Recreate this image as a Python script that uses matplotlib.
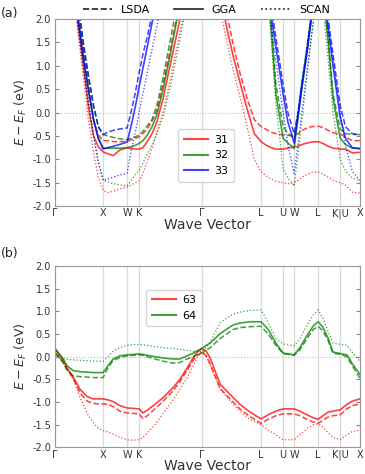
import numpy as np
import matplotlib.pyplot as plt
from matplotlib.lines import Line2D

# high-symmetry points along the path
kpt_labels = ['Γ', 'X', 'W', 'K', 'Γ', 'L', 'U', 'W', 'L', 'K|U', 'X']
kpt_pos = [0, 1.0, 1.5, 1.75, 3.06, 4.29, 4.75, 4.98, 5.48, 5.94, 6.35]

# ---- panel (a): bands 31, 32, 33 ----
k_a = [0, 0.25, 0.4, 0.5, 0.6, 0.7, 0.8, 0.9, 1.0, 1.1, 1.21, 1.35, 1.5, 1.58, 1.67,
       1.75, 1.83, 1.92, 2.02, 2.12, 2.25, 2.4, 2.54, 2.7, 3.06, 3.4, 3.5, 3.6, 3.7,
       3.85, 4.0, 4.15, 4.29, 4.4, 4.5, 4.6, 4.75, 4.85, 4.98, 5.06, 5.15, 5.25, 5.35,
       5.48, 5.58, 5.69, 5.79, 5.94, 6.05, 6.19, 6.35]

b31_lsda = [6.0, 4.5, 2.8, 2.0, 1.25, 0.55, -0.15, -0.48, -0.6, -0.6, -0.62, -0.62, -0.62,
            -0.58, -0.55, -0.52, -0.45, -0.35, -0.18, 0.05, 0.6, 1.35, 2.05, 2.8, 4.5, 3.2,
            2.6, 2.0, 1.5, 0.85, 0.3, -0.15, -0.3, -0.36, -0.42, -0.45, -0.48, -0.49, -0.48,
            -0.45, -0.38, -0.33, -0.3, -0.29, -0.32, -0.38, -0.43, -0.46, -0.52, -0.6, -0.6]
b31_gga = [5.5, 4.0, 2.5, 1.7, 0.9, 0.08, -0.5, -0.73, -0.84, -0.88, -0.92, -0.8, -0.75,
           -0.77, -0.78, -0.78, -0.75, -0.62, -0.45, -0.2, 0.3, 1.03, 1.7, 2.5, 4.5, 2.8,
           2.2, 1.7, 1.25, 0.65, 0.08, -0.45, -0.62, -0.7, -0.75, -0.78, -0.78, -0.76, -0.73,
           -0.72, -0.68, -0.65, -0.63, -0.62, -0.66, -0.72, -0.76, -0.78, -0.78, -0.86, -0.85]
b31_scan = [5.0, 3.8, 2.4, 1.5, 0.65, -0.2, -0.85, -1.38, -1.66, -1.71, -1.68, -1.63, -1.59,
            -1.55, -1.5, -1.46, -1.3, -1.05, -0.75, -0.42, 0.0, 0.7, 1.4, 2.2, 4.0, 2.4,
            1.9, 1.4, 0.95, 0.35, -0.3, -1.0, -1.27, -1.35, -1.42, -1.47, -1.5, -1.52, -1.5,
            -1.45, -1.38, -1.32, -1.28, -1.27, -1.32, -1.38, -1.45, -1.5, -1.55, -1.7, -1.72]

b32_lsda = [6.0, 4.6, 2.9, 2.15, 1.4, 0.75, 0.15, -0.3, -0.47, -0.5, -0.53, -0.56, -0.58,
            -0.55, -0.52, -0.48, -0.4, -0.28, -0.15, 0.15, 0.75, 1.55, 2.3, 3.0, 5.0, 5.2,
            5.1, 5.0, 4.9, 4.8, 4.6, 4.3, 4.1, 3.2, 2.0, 0.6, -0.3, -0.45, -0.55,
            0.0, 0.7, 1.4, 2.2, 3.1, 2.7, 1.6, 0.4, -0.35, -0.45, -0.47, -0.47]
b32_gga = [5.5, 4.1, 2.6, 1.85, 1.1, 0.45, -0.15, -0.55, -0.77, -0.76, -0.76, -0.76, -0.75,
           -0.73, -0.7, -0.66, -0.6, -0.48, -0.3, -0.05, 0.5, 1.25, 2.0, 2.8, 4.8, 5.0,
           4.9, 4.8, 4.7, 4.6, 4.5, 4.2, 4.0, 3.0, 1.8, 0.4, -0.55, -0.65, -0.77,
           -0.1, 0.6, 1.3, 2.1, 3.0, 2.6, 1.5, 0.3, -0.55, -0.68, -0.76, -0.77]
b32_scan = [5.2, 3.9, 2.5, 1.7, 0.9, 0.2, -0.5, -1.05, -1.45, -1.48, -1.52, -1.55, -1.57,
            -1.45, -1.33, -1.24, -1.08, -0.88, -0.7, -0.45, -0.08, 0.55, 1.25, 2.1, 4.5, 4.8,
            4.7, 4.6, 4.5, 4.4, 4.2, 4.0, 3.8, 2.9, 1.6, 0.2, -1.2, -1.4, -1.57,
            -0.9, -0.1, 0.8, 1.7, 2.8, 2.3, 1.1, 0.0, -1.0, -1.25, -1.4, -1.45]

b33_lsda = [6.0, 4.6, 2.9, 2.15, 1.4, 0.75, 0.15, -0.3, -0.47, -0.42, -0.38, -0.35, -0.33,
            0.0, 0.42, 0.85, 1.25, 1.62, 2.1, 2.6, 3.2, 3.8, 4.4, 5.0, 6.0, 5.2,
            5.0, 4.8, 4.6, 4.4, 4.2, 4.0, 3.6, 3.1, 2.3, 1.6, 0.6, 0.0, -0.45,
            0.0, 0.7, 1.4, 2.2, 3.1, 2.8, 2.0, 1.25, 0.15, -0.3, -0.45, -0.47]
b33_gga = [5.5, 4.1, 2.6, 1.85, 1.1, 0.45, -0.15, -0.55, -0.77, -0.75, -0.72, -0.68, -0.63,
           -0.3, 0.12, 0.55, 0.95, 1.4, 1.92, 2.4, 3.0, 3.6, 4.2, 4.8, 6.0, 5.0,
           4.8, 4.6, 4.4, 4.2, 4.0, 3.8, 3.5, 3.0, 2.1, 1.4, 0.4, -0.2, -0.65,
           -0.1, 0.6, 1.3, 2.1, 3.0, 2.6, 1.8, 1.0, -0.1, -0.55, -0.75, -0.77]
b33_scan = [5.2, 3.9, 2.5, 1.7, 0.9, 0.2, -0.5, -1.05, -1.45, -1.42, -1.38, -1.33, -1.3,
            -0.85, -0.42, 0.0, 0.4, 0.85, 1.35, 1.85, 2.5, 3.2, 3.8, 4.4, 5.5, 4.8,
            4.6, 4.4, 4.2, 4.0, 3.8, 3.6, 3.3, 2.8, 1.9, 1.1, 0.0, -0.7, -1.3,
            -0.7, 0.1, 0.9, 1.7, 2.6, 2.6, 1.9, 1.1, 0.0, -0.7, -1.25, -1.45]

# ---- panel (b): bands 63, 64 ----
k_b = [0, 0.15, 0.25, 0.38, 0.52, 0.67, 0.79, 0.9, 1.0, 1.1, 1.21, 1.35, 1.5, 1.63, 1.75,
       1.83, 1.92, 2.08, 2.25, 2.46, 2.6, 2.75, 2.88, 2.96, 3.06, 3.15, 3.23, 3.44, 3.71,
       3.85, 4.06, 4.29, 4.44, 4.6, 4.75, 4.98, 5.1, 5.25, 5.38, 5.48, 5.58, 5.69, 5.79,
       5.94, 6.08, 6.19, 6.35]

b63_lsda = [0.08, -0.1, -0.28, -0.48, -0.8, -0.98, -1.03, -1.04, -1.04, -1.05, -1.1, -1.2,
            -1.24, -1.25, -1.26, -1.37, -1.3, -1.15, -0.98, -0.75, -0.55, -0.3, -0.08, 0.03,
            0.1, 0.02, -0.15, -0.7, -1.0, -1.15, -1.32, -1.47, -1.38, -1.3, -1.26, -1.26,
            -1.3, -1.38, -1.44, -1.47, -1.4, -1.33, -1.3, -1.28, -1.15, -1.08, -1.04]
b63_gga = [0.16, -0.05, -0.25, -0.45, -0.72, -0.88, -0.93, -0.93, -0.93, -0.95, -0.99, -1.08,
           -1.13, -1.14, -1.15, -1.24, -1.18, -1.05, -0.9, -0.68, -0.5, -0.25, -0.02, 0.1,
           0.18, 0.12, -0.03, -0.61, -0.9, -1.05, -1.22, -1.37, -1.28, -1.2, -1.15, -1.15,
           -1.2, -1.28, -1.35, -1.38, -1.3, -1.22, -1.2, -1.17, -1.05, -0.98, -0.93]
b63_scan = [0.08, -0.1, -0.28, -0.5, -0.9, -1.25, -1.45, -1.58, -1.63, -1.66, -1.7, -1.78,
            -1.83, -1.84, -1.83, -1.78, -1.68, -1.5, -1.25, -0.95, -0.72, -0.47, -0.2, -0.02,
            0.1, 0.0, -0.2, -0.72, -1.05, -1.2, -1.38, -1.5, -1.62, -1.72, -1.83, -1.83,
            -1.72, -1.58, -1.5, -1.48, -1.55, -1.68, -1.78, -1.83, -1.72, -1.65, -1.62]

b64_lsda = [0.08, -0.1, -0.3, -0.42, -0.44, -0.45, -0.46, -0.46, -0.46, -0.25, -0.08, -0.02,
            0.02, 0.03, 0.04, 0.03, 0.0, -0.05, -0.1, -0.14, -0.13, -0.05, 0.0, 0.04,
            0.08, 0.14, 0.2, 0.4, 0.6, 0.64, 0.66, 0.67, 0.5, 0.25, 0.07, 0.03,
            0.15, 0.4, 0.6, 0.67, 0.57, 0.35, 0.08, 0.05, 0.0, -0.2, -0.47]
b64_gga = [0.18, -0.02, -0.2, -0.31, -0.33, -0.34, -0.35, -0.35, -0.35, -0.2, -0.05, 0.02,
           0.04, 0.05, 0.06, 0.05, 0.03, 0.0, -0.03, -0.05, -0.05, 0.02, 0.08, 0.13,
           0.18, 0.25, 0.3, 0.51, 0.7, 0.74, 0.77, 0.77, 0.6, 0.3, 0.08, 0.04,
           0.2, 0.47, 0.68, 0.77, 0.65, 0.4, 0.1, 0.07, 0.04, -0.15, -0.39]
b64_scan = [0.08, -0.03, -0.06, -0.07, -0.08, -0.09, -0.1, -0.1, -0.1, 0.0, 0.12, 0.2,
            0.25, 0.27, 0.27, 0.26, 0.25, 0.22, 0.2, 0.18, 0.16, 0.14, 0.12, 0.11,
            0.11, 0.2, 0.32, 0.75, 0.94, 0.98, 1.02, 1.03, 0.75, 0.4, 0.28, 0.24,
            0.4, 0.7, 0.92, 1.03, 0.85, 0.55, 0.3, 0.27, 0.25, 0.1, -0.1]

functionals = ['LSDA', 'GGA', 'SCAN']
ls = {'LSDA': '--', 'GGA': '-', 'SCAN': ':'}
lw = {'LSDA': 1.1, 'GGA': 1.2, 'SCAN': 0.9}

bands_a = {'31': ('red', [b31_lsda, b31_gga, b31_scan]),
           '32': ('green', [b32_lsda, b32_gga, b32_scan]),
           '33': ('blue', [b33_lsda, b33_gga, b33_scan])}
bands_b = {'63': ('red', [b63_lsda, b63_gga, b63_scan]),
           '64': ('green', [b64_lsda, b64_gga, b64_scan])}

fig = plt.figure(figsize=(3.65, 4.74), dpi=100)
ax_a = fig.add_axes([0.151, 0.565, 0.835, 0.395])
ax_b = fig.add_axes([0.151, 0.056, 0.835, 0.383])


def draw_panel(ax, k, bands, leg_anchor):
    for x in kpt_pos:
        ax.axvline(x, color='#d9d9d9', lw=0.9, zorder=0)
    ax.axhline(0, color='#bbbbbb', lw=0.8, ls=':', zorder=0)
    handles = []
    for name, (col, series) in bands.items():
        for f, y in zip(functionals, series):
            ax.plot(k, y, color=col, ls=ls[f], lw=lw[f], alpha=0.75)
        handles.append(Line2D([], [], color=col, lw=1.5, alpha=0.75, label=name))
    ax.set_xlim(kpt_pos[0], kpt_pos[-1])
    ax.set_ylim(-2, 2)
    ax.set_xticks(kpt_pos)
    ax.set_xticklabels(kpt_labels, fontsize=7, color='#333333')
    ax.set_yticks(np.arange(-2, 2.01, 0.5))
    ax.set_yticklabels(['%.1f' % v for v in np.arange(-2, 2.01, 0.5)], fontsize=7, color='#333333')
    ax.tick_params(axis='x', length=0, pad=1.5)
    ax.tick_params(axis='y', direction='in', length=3, right=True, color='#888888', pad=3)
    for s in ax.spines.values():
        s.set_color('#999999')
    ax.set_xlabel('Wave Vector', fontsize=10, color='#333333', labelpad=-0.5)
    ax.set_ylabel('$E - E_F$ (eV)', fontsize=9, color='#333333', labelpad=2)
    ax.legend(handles=handles, loc='upper left', bbox_to_anchor=leg_anchor, fontsize=8,
              handlelength=2.2, borderpad=0.5, labelspacing=0.5, handletextpad=0.6)


draw_panel(ax_a, k_a, bands_a, (0.385, 0.44))
draw_panel(ax_b, k_b, bands_b, (0.28, 0.9))

top_handles = [Line2D([], [], color='#222222', ls=ls[f], lw=1.2, label=f) for f in functionals]
fig.legend(handles=top_handles, loc='upper center', bbox_to_anchor=(0.565, 1.01), ncol=3,
           frameon=False, fontsize=8, handlelength=2.6, columnspacing=2.2)

fig.text(0.003, 0.985, '(a)', fontsize=9, va='top', color='#222222')
fig.text(0.003, 0.478, '(b)', fontsize=9, va='top', color='#222222')

fig.savefig('out.png', dpi=100)
